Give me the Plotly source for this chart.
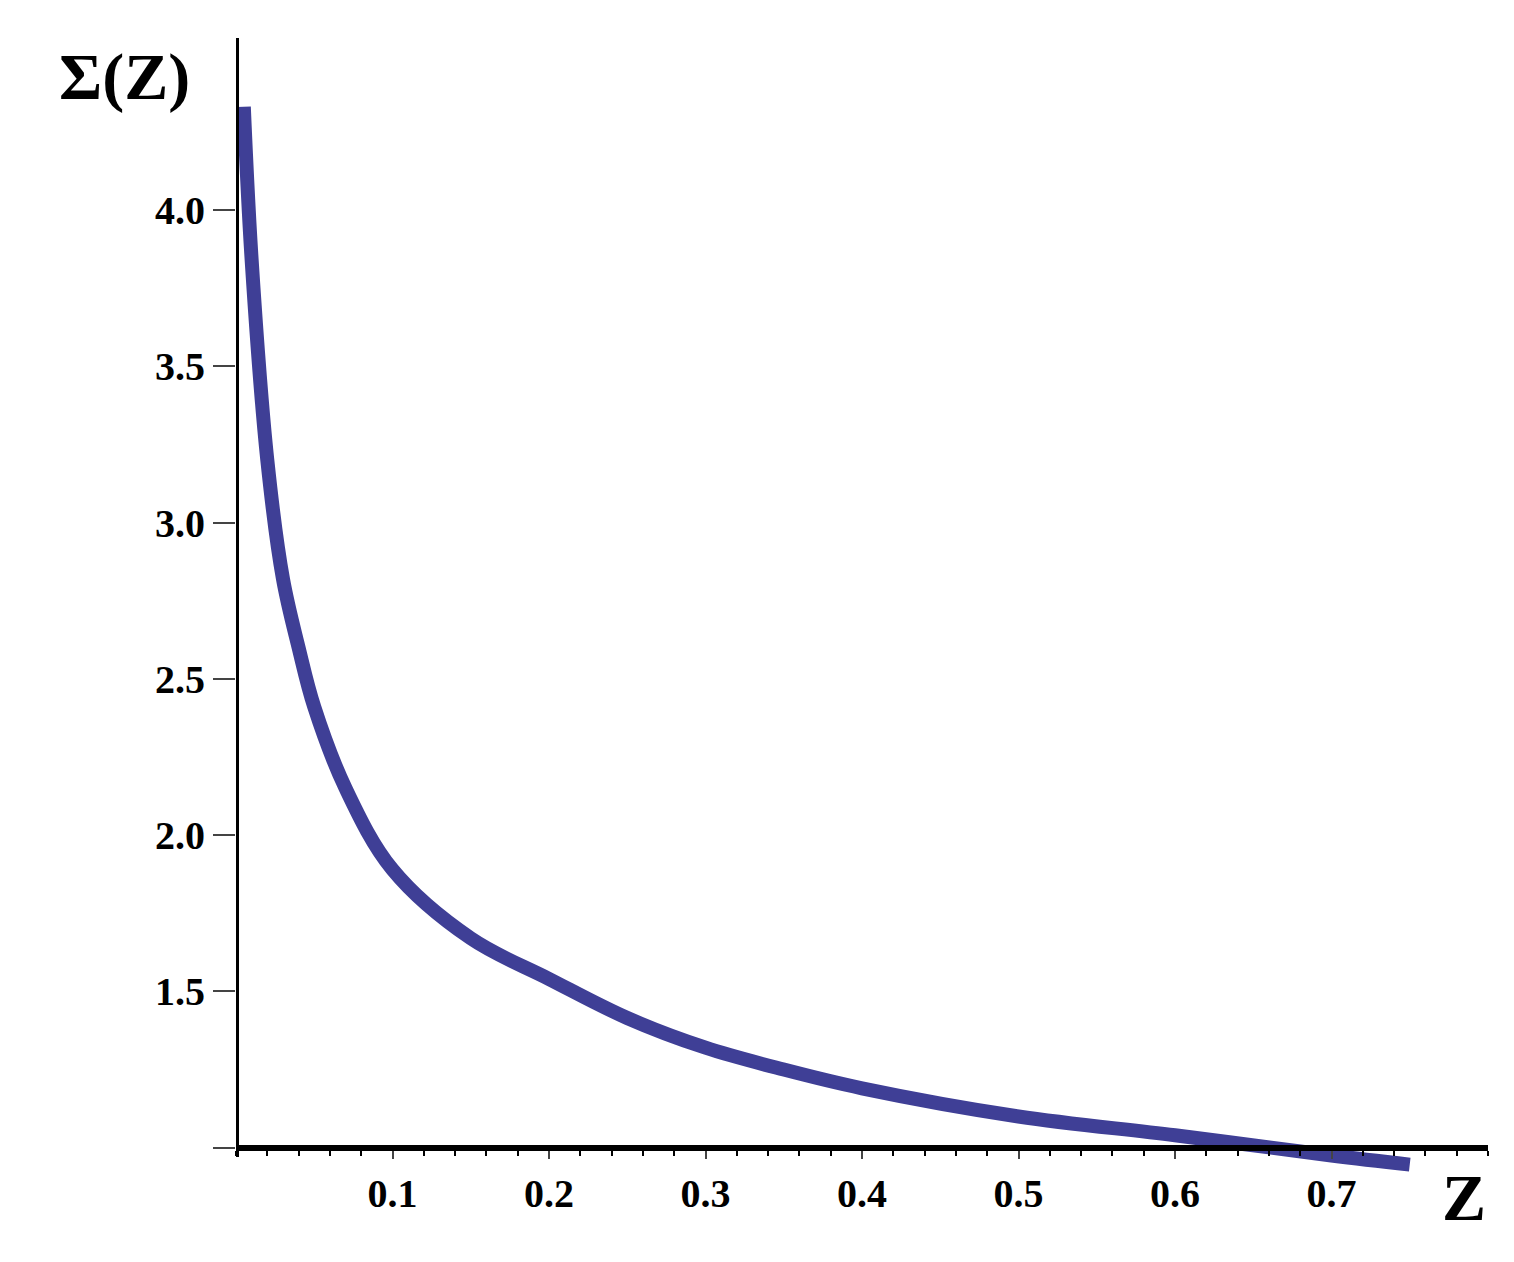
import plotly.graph_objects as go

z = [0.005, 0.01, 0.02, 0.03, 0.04, 0.05, 0.07, 0.1, 0.15, 0.2, 0.25, 0.3, 0.35, 0.4, 0.5, 0.6, 0.7, 0.75]
sigma = [4.33, 3.84, 3.20, 2.82, 2.60, 2.41, 2.15, 1.89, 1.67, 1.54, 1.415, 1.32, 1.25, 1.19, 1.10, 1.04, 0.975, 0.946]
xticks = [0.1, 0.2, 0.3, 0.4, 0.5, 0.6, 0.7]
yticks = [1.0, 1.5, 2.0, 2.5, 3.0, 3.5, 4.0]
ytext = ["", "1.5", "2.0", "2.5", "3.0", "3.5", "4.0"]

ylo, yhi = 0.9, 4.55
font = dict(family="Liberation Serif", size=40, color="black")

fig = go.Figure(go.Scatter(x=z, y=sigma, mode="lines", line=dict(color="#3f3f96", width=14), line_shape="spline"))
fig.update_layout(
    width=1514, height=1262, plot_bgcolor="white", paper_bgcolor="white",
    margin=dict(l=228, r=34, t=30, b=91), showlegend=False,
    font=font,
    xaxis=dict(range=[0, 0.8], tickvals=xticks, ticktext=[f"<b>{v}</b>" for v in xticks], automargin=False,
               showgrid=False, zeroline=False, showline=True, linecolor="black", linewidth=6,
               anchor="free", position=(1 - ylo) / (yhi - ylo), ticks="outside", ticklen=8, tickwidth=2,
               minor=dict(dtick=0.02, ticks="outside", ticklen=5, tickwidth=2, tickcolor="black")),
    yaxis=dict(range=[ylo, yhi], tickvals=yticks, ticktext=[f"<b>{t}</b>" for t in ytext], automargin=False,
               showgrid=False, zeroline=False, showline=False, ticks="outside", ticklen=22, tickwidth=2),
    shapes=[dict(type="line", xref="x", yref="y", x0=0, x1=0, y0=0.97, y1=yhi, line=dict(color="black", width=6))],
    annotations=[
        dict(text="<b>Σ(Z)</b>", xref="paper", yref="paper", x=-0.035, y=1.0, xanchor="right", yanchor="top",
             showarrow=False, font=dict(family="Liberation Serif", size=66, color="black")),
        dict(text="<b>Z</b>", xref="paper", yref="paper", x=1.0, y=-0.05, xanchor="right", yanchor="bottom",
             showarrow=False, font=dict(family="Liberation Serif", size=66, color="black")),
    ],
)
fig.write_html("out.html")
